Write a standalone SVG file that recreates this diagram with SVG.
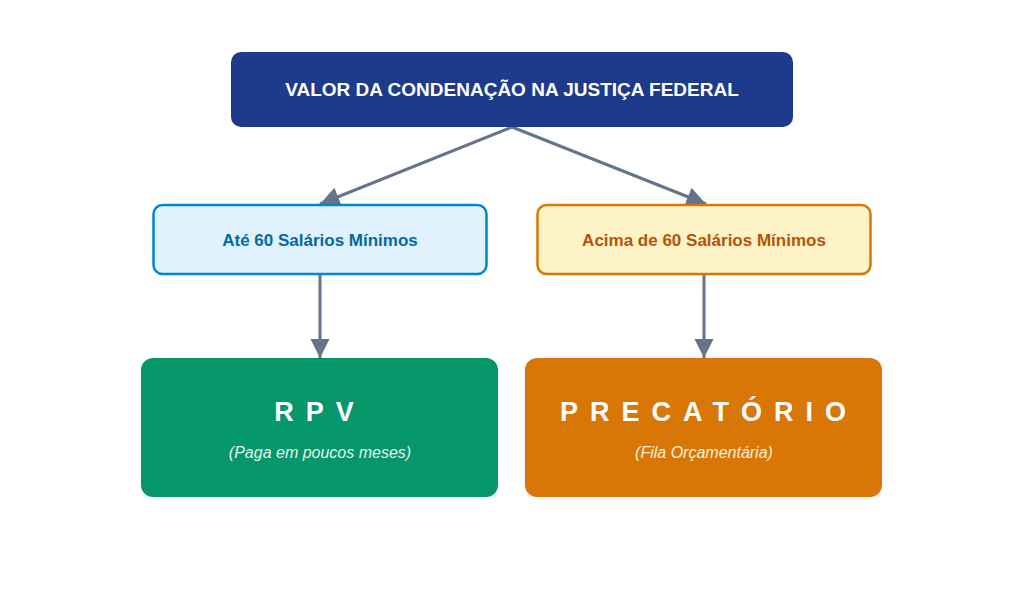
<svg xmlns="http://www.w3.org/2000/svg" width="1024" height="614" viewBox="0 0 1024 614">
<style>
text{font-family:"Liberation Sans",Arial,sans-serif;text-anchor:middle}
.c{stroke:#64748b;stroke-width:3;fill:none;marker-end:url(#a)}
.b{font-weight:bold}
</style>
<defs><marker id="a" viewBox="0 0 10 10" refX="9" refY="5" markerWidth="7" markerHeight="7" markerUnits="userSpaceOnUse" orient="auto"><path d="M0,0L10,5L0,10z" fill="#64748b"/></marker>
<marker id="m" viewBox="0 0 10 10" refX="10" refY="5" markerWidth="6.5" markerHeight="6.5" orient="auto"><path d="M0,0L10,5L0,10z" fill="#64748b"/></marker></defs>
<rect width="1024" height="614" fill="#fff"/>
<g id="connectors">
<path d="M512,127L320,204" stroke="#64748b" stroke-width="3" marker-end="url(#m)"/>
<path d="M512,127L706,204" stroke="#64748b" stroke-width="3" marker-end="url(#m)"/>
<path d="M320,274L320,358" stroke="#64748b" stroke-width="3" marker-end="url(#m)"/>
<path d="M704,274L704,358" stroke="#64748b" stroke-width="3" marker-end="url(#m)"/>
</g>
<g id="top"><rect x="231" y="52" width="562" height="75" rx="10" fill="#1e3a8a"/>
<text x="512" y="96" class="b" font-size="19" fill="#fff">VALOR DA CONDENAÇÃO NA JUSTIÇA FEDERAL</text></g>
<g id="left"><rect x="153.5" y="205" width="333" height="69" rx="9" fill="#e0f2fe" stroke="#0288d1" stroke-width="2.5"/>
<text x="320" y="246" class="b" font-size="17" fill="#0369a1">Até 60 Salários Mínimos</text></g>
<g id="right"><rect x="537.5" y="205" width="333" height="69" rx="9" fill="#fef3c7" stroke="#d97706" stroke-width="2.5"/>
<text x="704" y="246" class="b" font-size="17" fill="#b45309">Acima de 60 Salários Mínimos</text></g>
<g id="rpv"><rect x="141" y="358" width="357" height="139" rx="12" fill="#059669"/>
<text x="320" y="421" class="b" font-size="27" fill="#fff" letter-spacing="12">RPV</text>
<text x="320" y="458" font-size="16" font-style="italic" fill="#e6f4ee">(Paga em poucos meses)</text></g>
<g id="prec"><rect x="525" y="358" width="357" height="139" rx="12" fill="#d97706"/>
<text x="709" y="421" class="b" font-size="27" fill="#fff" letter-spacing="12">PRECATÓRIO</text>
<text x="704" y="458" font-size="16" font-style="italic" fill="#fdf0dc">(Fila Orçamentária)</text></g>
</svg>
